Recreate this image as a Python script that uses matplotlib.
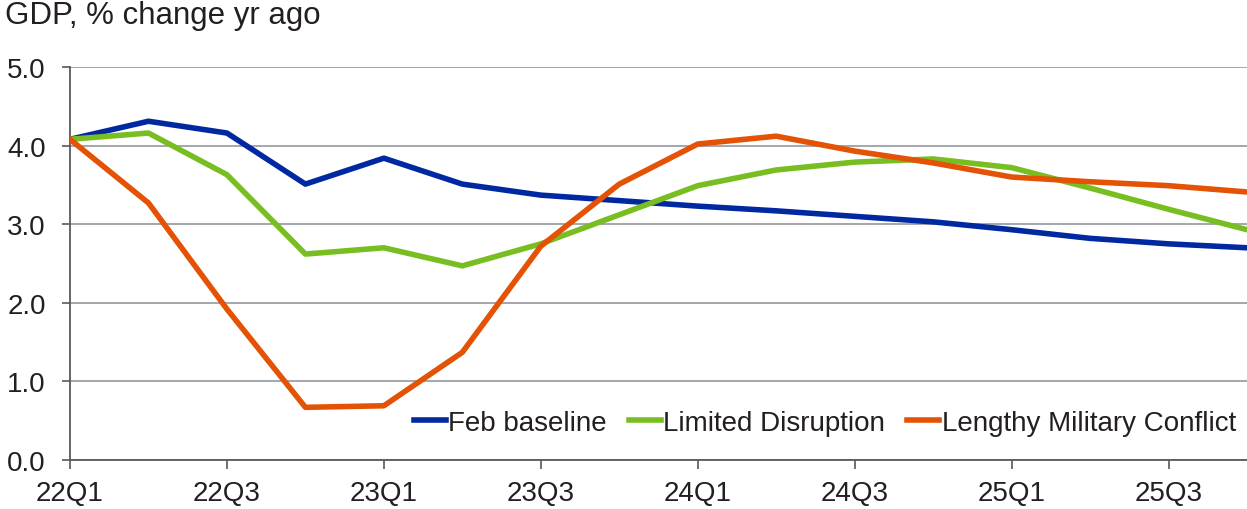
import numpy as np
import matplotlib.pyplot as plt

plt.rcParams['font.family'] = ['Liberation Sans', 'DejaVu Sans']

# quarters 22Q1 .. 25Q4
quarters = ['22Q1', '22Q2', '22Q3', '22Q4', '23Q1', '23Q2', '23Q3', '23Q4',
            '24Q1', '24Q2', '24Q3', '24Q4', '25Q1', '25Q2', '25Q3', '25Q4']

feb_baseline = [4.08, 4.31, 4.16, 3.51, 3.84, 3.51, 3.37, 3.30,
                3.23, 3.17, 3.10, 3.03, 2.93, 2.82, 2.75, 2.70]
limited_disruption = [4.08, 4.16, 3.63, 2.62, 2.70, 2.47, 2.75, 3.12,
                      3.49, 3.69, 3.79, 3.83, 3.72, 3.46, 3.19, 2.93]
lengthy_conflict = [4.08, 3.27, 1.92, 0.67, 0.69, 1.37, 2.72, 3.51,
                    4.02, 4.12, 3.93, 3.78, 3.60, 3.54, 3.49, 3.41]

x = np.arange(len(quarters))

fig = plt.figure(figsize=(12.47, 5.10), dpi=100)
ax = fig.add_axes([70/1247, 49/510, 1 - 70/1247, (461-68)/510])

lw = 4.0
ax.plot(x, feb_baseline, color='#0028A0', lw=lw, label='Feb baseline', zorder=3)
ax.plot(x, limited_disruption, color='#78BE20', lw=lw, label='Limited Disruption', zorder=3)
ax.plot(x, lengthy_conflict, color='#E35205', lw=lw, label='Lengthy Military Conflict', zorder=3)

ax.set_xlim(0, 15)
ax.set_ylim(0, 5)
yt = np.arange(0, 5.1, 1.0)
ax.set_yticks(yt)
ax.set_yticklabels([f'{v:.1f}' for v in yt])
ax.set_xticks(x[::2])
ax.set_xticklabels(quarters[::2])

ax.grid(axis='y', color='#9aa0a6', lw=1.3, zorder=1)
for s in ['top', 'right']:
    ax.spines[s].set_visible(False)
for s in ['left', 'bottom']:
    ax.spines[s].set_color('#595959')
    ax.spines[s].set_linewidth(1.3)

ax.tick_params(axis='y', length=5.5, width=1.2, color='#595959', labelsize=20,
               labelcolor='#231f20', pad=12)
ax.tick_params(axis='x', length=6.5, width=1.2, color='#595959', labelsize=20,
               labelcolor='#231f20', pad=8)

fig.text(0.004, 0.968, 'GDP, % change yr ago', fontsize=22.5, color='#231f20',
         ha='left', va='center')

ax.legend(loc='lower right', bbox_to_anchor=(1.0, 0.033), ncol=3, frameon=False,
          fontsize=20, handlelength=1.15, handletextpad=0.08, columnspacing=0.8,
          labelcolor='#231f20', borderaxespad=0.0)

fig.savefig('out.png', dpi=100)
